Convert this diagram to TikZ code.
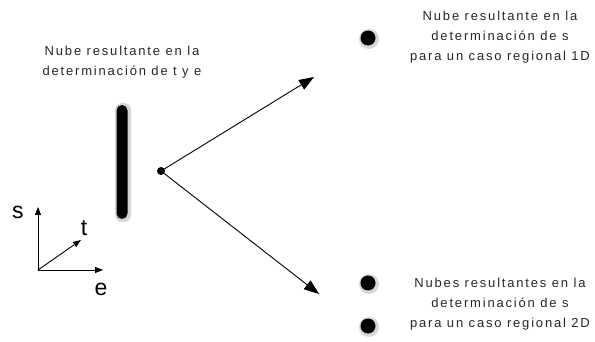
\documentclass[tikz,border=0pt]{standalone}
\usepackage{fontspec}
\setmainfont{Liberation Sans}
\newfontfamily\spaced[LetterSpace=14]{Liberation Sans}
\usetikzlibrary{arrows.meta}
\begin{document}
\begin{tikzpicture}[x=1pt,y=-1pt,
  lbl/.style={font=\spaced\fontsize{13}{20}\selectfont, align=center, text=black!85, inner sep=0pt},
  axlbl/.style={font=\fontsize{23}{23}\selectfont, inner sep=0pt},
  bigarrow/.style={line width=0.9pt, -{Triangle[length=15pt,width=11pt]}},
  axarrow/.style={line width=0.9pt, -{Triangle[length=8pt,width=6pt]}},
  blob/.style={circle, fill=black, minimum size=15pt, inner sep=0pt},
  halo/.style={circle, fill=black!45, opacity=0.35, minimum size=20pt, inner sep=0pt}
]
\useasboundingbox (0,0) rectangle (595,342);
% cloud bar
\fill[black!40, opacity=0.4, rounded corners=7pt] (115,103) rectangle (131,222);
\fill[black, rounded corners=5.5pt] (116.5,105) rectangle (127.5,219);
\node[circle, fill=black, minimum size=8pt, inner sep=0pt] (c) at (161,171) {};
% right blobs
\node[halo] at (369,39) {};
\node[blob] (b1) at (368,38) {};
\node[halo] at (369,284) {};
\node[blob] (b2) at (368,283) {};
\node[halo] at (369,327) {};
\node[blob] (b3) at (368,326) {};
\coordinate (u) at (314,77);
\coordinate (d) at (319,294);
\draw[bigarrow] (c.center) -- (u);
\draw[bigarrow] (c.center) -- (d);
% texts
\node[lbl] (tl) at (122,62) {Nube resultante en la\\determinación de t y e};
\node[lbl] (tr) at (500,37) {Nube resultante en la\\determinación de s\\para un caso regional 1D};
\node[lbl] (br) at (500,304) {Nubes resultantes en la\\determinación de s\\para un caso regional 2D};
% axes
\coordinate (o) at (38,270);
\coordinate (os) at (38,207);
\coordinate (oe) at (103,270);
\coordinate (ot) at (81,240);
\draw[axarrow] (o) -- (os);
\draw[axarrow] (o) -- (oe);
\draw[axarrow] (o) -- (ot);
\node[axlbl] (ls) at (18,212) {s};
\node[axlbl] (lt) at (84,228) {t};
\node[axlbl] (le) at (101,289) {e};
\end{tikzpicture}
\end{document}
